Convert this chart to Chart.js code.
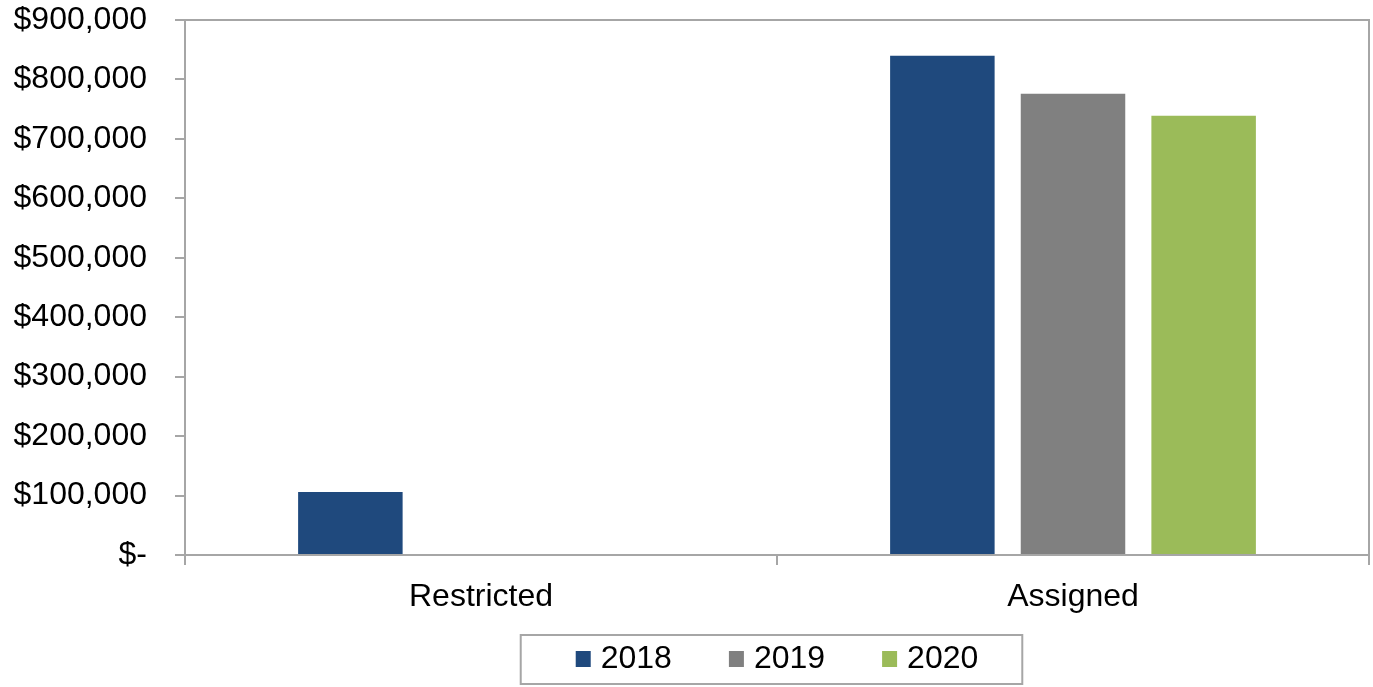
<!DOCTYPE html>
<html>
<head>
<meta charset="utf-8">
<script src="https://cdn.jsdelivr.net/npm/chart.js@4/dist/chart.umd.min.js"></script>
<style>
  html, body { margin: 0; padding: 0; background: #fff; }
  #wrap { width: 1373px; height: 687px; }
</style>
</head>
<body>
<div id="wrap"><canvas id="barChart" width="1373" height="687"></canvas></div>
<script>
const categories = ['Restricted', 'Assigned'];
const years = ['2018', '2019', '2020'];
const values2018 = [106000, 840000];
const values2019 = [0, 776000];
const values2020 = [0, 739000];
const colors = ['#1F497D', '#808080', '#9BBB59'];

const axisGrey = '#A6A6A6';
const fontFamily = '"Liberation Sans", Arial, sans-serif';
const fontSize = 32;

// top + right frame of the plot, and a boxed legend under the x labels
const framePlugin = {
  id: 'frame',
  afterDraw(chart) {
    const { ctx, chartArea: a } = chart;
    ctx.save();
    ctx.strokeStyle = axisGrey;
    ctx.lineWidth = 2;
    ctx.beginPath();
    ctx.moveTo(a.left, a.top);
    ctx.lineTo(a.right, a.top);
    ctx.lineTo(a.right, a.bottom);
    ctx.stroke();

    // legend
    ctx.font = fontSize + 'px ' + fontFamily;
    ctx.textBaseline = 'middle';
    ctx.textAlign = 'left';
    const box = 15, gap = 10, spacing = 57, cy = 659;
    const items = chart.data.datasets.map(ds => ({
      text: ds.label, color: ds.backgroundColor, w: ctx.measureText(ds.label).width
    }));
    const total = items.reduce((s, it) => s + box + gap + it.w, 0) + spacing * (items.length - 1);
    let x = (a.left + a.right) / 2 - total / 2;
    const startX = x;
    items.forEach(it => {
      ctx.fillStyle = it.color;
      ctx.fillRect(x, cy - 8, box, 16);
      ctx.fillStyle = '#000';
      ctx.fillText(it.text, x + box + gap, cy);
      x += box + gap + it.w + spacing;
    });
    const endX = x - spacing;
    ctx.strokeStyle = axisGrey;
    ctx.strokeRect(startX - 55, 635, (endX + 44) - (startX - 55), 49);
    ctx.restore();
  }
};

new Chart(document.getElementById('barChart').getContext('2d'), {
  type: 'bar',
  data: {
    labels: categories,
    datasets: [
      { label: years[0], data: values2018, backgroundColor: colors[0] },
      { label: years[1], data: values2019, backgroundColor: colors[1] },
      { label: years[2], data: values2020, backgroundColor: colors[2] }
    ]
  },
  options: {
    responsive: false,
    animation: false,
    layout: { padding: { top: 0, right: 4, left: 0, bottom: 4 } },
    datasets: {
      bar: { categoryPercentage: 0.662, barPercentage: 0.8, borderWidth: 0 }
    },
    plugins: {
      tooltip: { enabled: false },
      legend: { display: false }
    },
    scales: {
      x: {
        grid: { drawOnChartArea: false, drawTicks: true, tickLength: 10, color: axisGrey, lineWidth: 2 },
        border: { display: true, color: axisGrey, width: 2 },
        ticks: { font: { family: fontFamily, size: fontSize }, color: '#000', padding: 13 },
        afterFit(scale) { scale.height = 128; }
      },
      y: {
        min: 0,
        max: 900000,
        grid: { drawOnChartArea: false, drawTicks: true, tickLength: 10, color: axisGrey, lineWidth: 2 },
        border: { display: true, color: axisGrey, width: 2 },
        ticks: {
          stepSize: 100000,
          font: { family: fontFamily, size: fontSize },
          color: '#000',
          padding: 28,
          callback: v => v === 0 ? '$-' : '$' + v.toLocaleString('en-US')
        },
        afterFit(scale) {
          scale.width = 185;
          scale.paddingTop = 20;
          scale.paddingBottom = 0;
        }
      }
    }
  },
  plugins: [framePlugin]
});
</script>
</body>
</html>
